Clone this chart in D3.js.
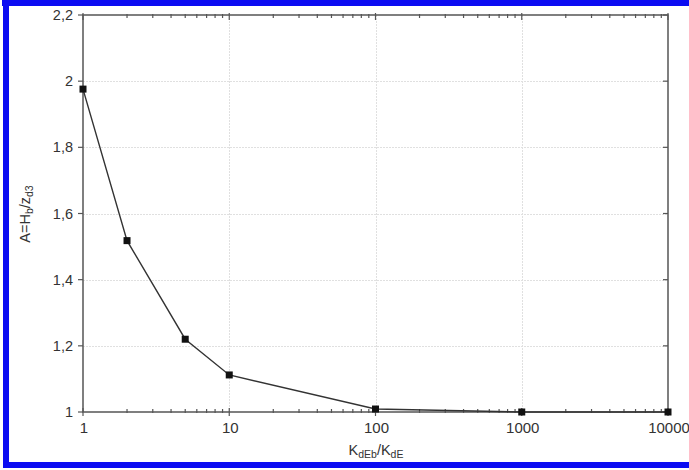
<!DOCTYPE html>
<html>
<head>
<meta charset="utf-8">
<script src="https://cdn.jsdelivr.net/npm/d3@7"></script>
<style>
  html, body { margin: 0; padding: 0; background: #fff; }
  svg { display: block; }
  text { font-family: "Liberation Sans", Arial, sans-serif; }
</style>
</head>
<body>
<svg id="chart" width="689" height="470"></svg>
<script>
// Ratio of dissociation constants and the resulting A value
const ratioValues = [1, 2, 5, 10, 100, 1000, 10000];
const aValues = [1.976, 1.518, 1.22, 1.112, 1.009, 1.0, 1.0];

const xTickValues = [1, 10, 100, 1000, 10000];
const xTickLabels = ["1", "10", "100", "1000", "10000"];
const yTickValues = [1, 1.2, 1.4, 1.6, 1.8, 2.0, 2.2];
const yTickLabels = ["1", "1,2", "1,4", "1,6", "1,8", "2", "2,2"];

const svg = d3.select("#chart");
const plot = { left: 83, right: 668, top: 15, bottom: 412 };

const x = d3.scaleLog().domain([1, 10000]).range([plot.left, plot.right]);
const y = d3.scaleLinear().domain([1, 2.2]).range([plot.bottom, plot.top]);

// blue frame
const frame = svg.append("g").attr("fill", "#0c0cf2");
frame.append("rect").attr("x", 2).attr("y", 0).attr("width", 687).attr("height", 6);
frame.append("rect").attr("x", 3).attr("y", 0).attr("width", 6).attr("height", 468);
frame.append("rect").attr("x", 3).attr("y", 462).attr("width", 686).attr("height", 6);

// grid
const grid = svg.append("g").attr("stroke", "#e0e0e0").attr("stroke-width", 1)
  .attr("stroke-dasharray", "2,1");
grid.selectAll(".vg").data(xTickValues.slice(1, -1)).join("line")
  .attr("x1", d => Math.round(x(d)) + 0.5).attr("x2", d => Math.round(x(d)) + 0.5)
  .attr("y1", plot.top).attr("y2", plot.bottom);
grid.selectAll(".hg").data(yTickValues.slice(1, -1)).join("line")
  .attr("y1", d => Math.round(y(d)) + 0.5).attr("y2", d => Math.round(y(d)) + 0.5)
  .attr("x1", plot.left).attr("x2", plot.right);

// minor log ticks
const minor = [];
for (let e = 0; e < 4; e++) for (let m = 2; m <= 9; m++) minor.push(m * Math.pow(10, e));

const axisColor = "#555";
const ax = svg.append("g").attr("stroke", axisColor).attr("stroke-width", 1.2);

// bottom & top ticks
ax.selectAll(".bmin").data(minor).join("line")
  .attr("x1", d => x(d)).attr("x2", d => x(d))
  .attr("y1", plot.bottom - 3).attr("y2", plot.bottom + 1);
ax.selectAll(".tmin").data(minor).join("line")
  .attr("x1", d => x(d)).attr("x2", d => x(d))
  .attr("y1", plot.top - 1).attr("y2", plot.top + 3);
ax.selectAll(".bmaj").data(xTickValues).join("line")
  .attr("x1", d => x(d)).attr("x2", d => x(d))
  .attr("y1", plot.bottom - 4).attr("y2", plot.bottom + 4);
ax.selectAll(".tmaj").data(xTickValues).join("line")
  .attr("x1", d => x(d)).attr("x2", d => x(d))
  .attr("y1", plot.top - 2).attr("y2", plot.top + 5);

// left & right ticks
ax.selectAll(".lt").data(yTickValues).join("line")
  .attr("y1", d => y(d)).attr("y2", d => y(d))
  .attr("x1", plot.left - 5).attr("x2", plot.left);
ax.selectAll(".rt").data(yTickValues).join("line")
  .attr("y1", d => y(d)).attr("y2", d => y(d))
  .attr("x1", plot.right - 5).attr("x2", plot.right);

// plot box
svg.append("rect")
  .attr("x", plot.left).attr("y", plot.top)
  .attr("width", plot.right - plot.left).attr("height", plot.bottom - plot.top)
  .attr("fill", "none").attr("stroke", axisColor).attr("stroke-width", 1.5);

// tick labels
svg.append("g").selectAll("text").data(xTickValues).join("text")
  .attr("x", d => x(d) + 1).attr("y", 433)
  .attr("text-anchor", "middle").attr("font-size", 15).attr("fill", "#333")
  .text((d, i) => xTickLabels[i]);
svg.append("g").selectAll("text").data(yTickValues).join("text")
  .attr("x", 73).attr("y", d => y(d) + 5)
  .attr("text-anchor", "end").attr("font-size", 14.5).attr("fill", "#333")
  .text((d, i) => yTickLabels[i]);

// axis titles
const xt = svg.append("text").attr("x", 376).attr("y", 455)
  .attr("text-anchor", "middle").attr("font-size", 14.5).attr("fill", "#333");
xt.append("tspan").text("K");
xt.append("tspan").attr("font-size", 10.5).attr("dy", 3).text("dEb");
xt.append("tspan").attr("dy", -3).text("/K");
xt.append("tspan").attr("font-size", 10.5).attr("dy", 3).text("dE");

const yt = svg.append("text").attr("transform", "translate(30,214) rotate(-90)")
  .attr("text-anchor", "middle").attr("font-size", 14.5).attr("fill", "#333");
yt.append("tspan").text("A=H");
yt.append("tspan").attr("font-size", 10.5).attr("dy", 3).text("b");
yt.append("tspan").attr("dy", -3).text("/z");
yt.append("tspan").attr("font-size", 10.5).attr("dy", 3).text("d3");

// series
const pts = ratioValues.map((r, i) => [r, aValues[i]]);
svg.append("path").datum(pts)
  .attr("fill", "none").attr("stroke", "#333").attr("stroke-width", 1.4)
  .attr("d", d3.line().x(d => x(d[0])).y(d => y(d[1])));
svg.append("g").selectAll("rect").data(pts).join("rect")
  .attr("x", d => x(d[0]) - 3.5).attr("y", d => y(d[1]) - 3.5)
  .attr("width", 7).attr("height", 7).attr("fill", "#111");
</script>
</body>
</html>
